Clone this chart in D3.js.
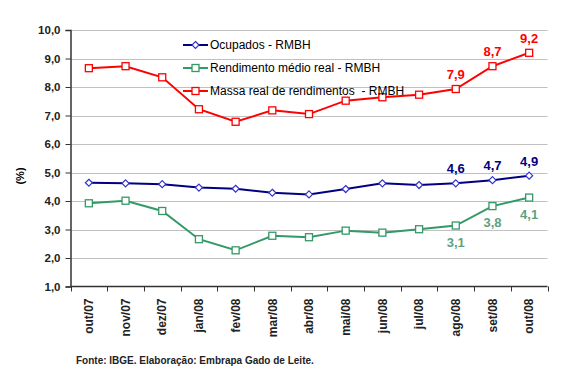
<!DOCTYPE html>
<html>
<head>
<meta charset="utf-8">
<script src="https://cdn.jsdelivr.net/npm/d3@7"></script>
<style>
body { margin: 0; background: #fff; }
text { font-family: "Liberation Sans", Arial, sans-serif; }
</style>
</head>
<body>
<div id="chart"></div>
<script>
// Chart size
var w = 580;
var h = 389;

// Categories (months)
var months = ["out/07", "nov/07", "dez/07", "jan/08", "fev/08", "mar/08", "abr/08",
              "mai/08", "jun/08", "jul/08", "ago/08", "set/08", "out/08"];

// Series values (%)
var ocupados = [4.64, 4.62, 4.59, 4.47, 4.43, 4.29, 4.23, 4.42, 4.62, 4.56, 4.62, 4.73, 4.89];
var rendimento = [3.92, 4.01, 3.65, 2.66, 2.27, 2.78, 2.73, 2.96, 2.89, 3.01, 3.14, 3.82, 4.12];
var massa = [8.66, 8.73, 8.34, 7.22, 6.78, 7.18, 7.05, 7.52, 7.64, 7.73, 7.93, 8.73, 9.20];

// Labelled points (last three months)
var labelIdx = [10, 11, 12];

// Y tick values
var yTicks = [1, 2, 3, 4, 5, 6, 7, 8, 9, 10];

var seriesNames = ["Ocupados - RMBH", "Rendimento médio real - RMBH", "Massa real de rendimentos  - RMBH"];

var margin = {left: 70.5, right: 32.5, top: 30, bottom: 102.5};

var x = d3.scaleBand()
    .domain(months)
    .range([margin.left, w - margin.right]);

var y = d3.scaleLinear()
    .domain([1, 10])
    .range([h - margin.bottom, margin.top]);

var svg = d3.select("#chart")
    .append("svg")
    .attr("width", w)
    .attr("height", h);

// gridlines
svg.selectAll("line.grid")
    .data(yTicks.slice(1))
    .enter()
    .append("line")
    .attr("class", "grid")
    .attr("x1", margin.left)
    .attr("x2", w - margin.right)
    .attr("y1", function(d) { return Math.round(y(d)) + 0.5; })
    .attr("y2", function(d) { return Math.round(y(d)) + 0.5; })
    .style("stroke", "#c0c0c0")
    .style("stroke-width", 1);

// y axis
var yAxis = svg.append("g")
    .attr("transform", "translate(" + margin.left + ",0)")
    .call(d3.axisLeft(y).tickValues(yTicks).tickSize(5).tickFormat(function(d) {
        return d3.format(".1f")(d).replace(".", ",");
    }));
yAxis.select(".domain").style("stroke", "#333").style("stroke-width", 1.5);
yAxis.selectAll(".tick line").style("stroke", "#333");
yAxis.selectAll(".tick text")
    .attr("x", -10)
    .style("font-size", "11.5px")
    .style("font-weight", "bold")
    .style("fill", "#222");

// x axis with ticks at category boundaries
var xg = svg.append("g")
    .attr("transform", "translate(0," + (h - margin.bottom) + ")");
xg.append("line")
    .attr("x1", margin.left)
    .attr("x2", w - margin.right)
    .style("stroke", "#333")
    .style("stroke-width", 1.5);
var bounds = months.map(function(m) { return x(m); }).concat([x(months[12]) + x.bandwidth()]);
xg.selectAll("line.tk")
    .data(bounds)
    .enter()
    .append("line")
    .attr("class", "tk")
    .attr("x1", function(d) { return Math.round(d) + 0.5; })
    .attr("x2", function(d) { return Math.round(d) + 0.5; })
    .attr("y1", 0)
    .attr("y2", 5)
    .style("stroke", "#333");
xg.selectAll("text")
    .data(months)
    .enter()
    .append("text")
    .attr("transform", function(d) {
        return "translate(" + (x(d) + x.bandwidth() / 2) + ",12) rotate(-90)";
    })
    .attr("text-anchor", "end")
    .attr("dy", "0.35em")
    .style("font-size", "12px")
    .style("font-weight", "bold")
    .style("fill", "#222")
    .text(function(d) { return d; });

// y axis title
svg.append("text")
    .attr("transform", "translate(20,176) rotate(-90)")
    .attr("text-anchor", "middle")
    .attr("dy", "0.35em")
    .style("font-size", "11px")
    .style("font-weight", "bold")
    .text("(%)");

var line = d3.line()
    .x(function(d, i) { return x(months[i]) + x.bandwidth() / 2; })
    .y(function(d) { return y(d); });

function cx(i) { return x(months[i]) + x.bandwidth() / 2; }

var series = [
    {name: seriesNames[0], values: ocupados, color: "#000080", marker: "diamond", stroke: "#3333cc", label: "#000080", dy: -10},
    {name: seriesNames[1], values: rendimento, color: "#339966", marker: "square", stroke: "#339966", label: "#5f9f7f", dy: 21},
    {name: seriesNames[2], values: massa, color: "#ff0000", marker: "square", stroke: "#ff0000", label: "#ff0000", dy: -10}
];

function drawMarker(g, type, stroke) {
    if (type === "diamond") {
        g.append("path")
            .attr("d", "M0,-3.5L3.5,0L0,3.5L-3.5,0Z")
            .style("fill", "#fff")
            .style("stroke", stroke)
            .style("stroke-width", 1.2);
    } else {
        g.append("rect")
            .attr("x", -3.5).attr("y", -3.5)
            .attr("width", 7).attr("height", 7)
            .style("fill", "#fff")
            .style("stroke", stroke)
            .style("stroke-width", 1.3);
    }
}

series.forEach(function(s) {
    svg.append("path")
        .datum(s.values)
        .attr("d", line)
        .style("fill", "none")
        .style("stroke", s.color)
        .style("stroke-width", 2);

    s.values.forEach(function(v, i) {
        var g = svg.append("g").attr("transform", "translate(" + cx(i) + "," + y(v) + ")");
        drawMarker(g, s.marker, s.stroke);
    });

    svg.selectAll(null)
        .data(labelIdx)
        .enter()
        .append("text")
        .attr("x", function(i) { return cx(i); })
        .attr("y", function(i) { return y(s.values[i]) + s.dy; })
        .attr("text-anchor", "middle")
        .style("font-size", "13px")
        .style("font-weight", "bold")
        .style("fill", s.label)
        .text(function(i) { return d3.format(".1f")(s.values[i]).replace(".", ","); });
});

// legend
var legend = svg.selectAll("g.legend")
    .data(series)
    .enter()
    .append("g")
    .attr("class", "legend")
    .attr("transform", function(d, i) { return "translate(183," + [45, 68, 91][i] + ")"; });
legend.append("line")
    .attr("x1", 0).attr("x2", 25)
    .style("stroke", function(d) { return d.color; })
    .style("stroke-width", 2);
legend.each(function(d) {
    var g = d3.select(this).append("g").attr("transform", "translate(12.5,0)");
    drawMarker(g, d.marker, d.stroke);
});
legend.append("text")
    .attr("x", 27)
    .attr("dy", "0.35em")
    .style("font-size", "12px")
    .style("white-space", "pre")
    .style("fill", "#000")
    .text(function(d) { return d.name; });

// source note
svg.append("text")
    .attr("x", 76)
    .attr("y", 364)
    .style("font-size", "10px")
    .style("font-weight", "bold")
    .style("fill", "#222")
    .text("Fonte: IBGE. Elaboração: Embrapa Gado de Leite.");
</script>
</body>
</html>
